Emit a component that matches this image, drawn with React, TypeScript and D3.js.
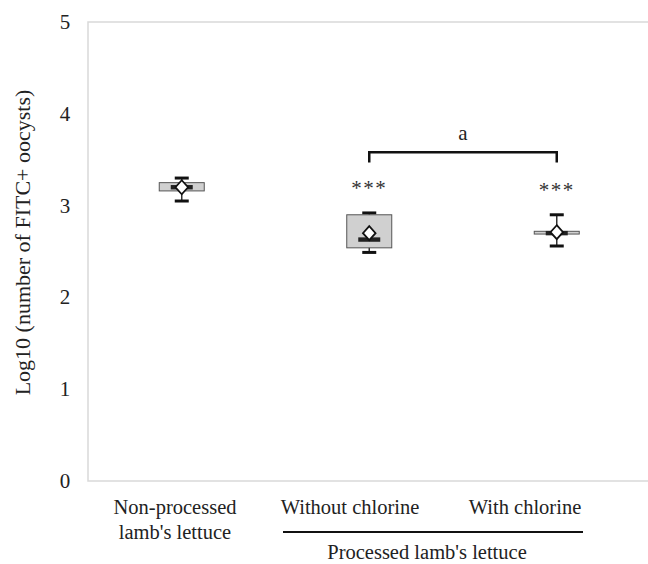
import React from "react";
import * as d3 from "d3";

// groups on the x axis
const categories = ["Non-processed lamb's lettuce", "Without chlorine", "With chlorine"];
const labelLines = [["Non-processed", "lamb's lettuce"], ["Without chlorine"], ["With chlorine"]];

// box statistics, log10 values
const whiskerLow = [3.05, 2.49, 2.56];
const q1 = [3.16, 2.54, 2.69];
const median = [3.2, 2.63, 2.7];
const q3 = [3.25, 2.9, 2.72];
const whiskerHigh = [3.3, 2.92, 2.9];
const means = [3.2, 2.7, 2.71];
const stars = ["", "***", "***"];

const yTicks = [0, 1, 2, 3, 4, 5];

const W = 648;
const H = 564;
const font = "'Liberation Serif', 'Times New Roman', serif";

export default function App() {
  const margin = { top: 22, left: 88, bottom: 83 };
  const x = d3.scaleBand<string>().domain(categories).range([margin.left, 650.5]);
  const xLabel = d3.scaleBand<string>().domain(categories).range([87.5, 612.5]);
  const y = d3.scaleLinear().domain([0, 5]).range([H - margin.bottom, margin.top]);

  const boxW = x.bandwidth() * 0.24;
  const medW = 11;
  const capW = 14;
  const dia = 7;

  const cx = (i: number) => (x(categories[i]) as number) + x.bandwidth() / 2;
  const lx = (i: number) => (xLabel(categories[i]) as number) + xLabel.bandwidth() / 2;

  // bracket between the two processed groups
  const bY = y(3.58);
  const bDrop = y(3.47);

  return (
    <svg width={W} height={H} style={{ position: "absolute", left: 0, top: 0, background: "#fff" }} fontFamily={font}>
      <rect x={margin.left} y={margin.top} width={650.5 - margin.left} height={y(0) - margin.top}
        fill="none" stroke="#d9d9d9" strokeWidth={1.5} />

      {yTicks.map((t) => (
        <text key={t} x={65} y={y(t) + 7} textAnchor="middle" fontSize={21} fill="#222">{t}</text>
      ))}

      <text transform={`translate(30,${(y(0) + y(5)) / 2 - 9}) rotate(-90)`} textAnchor="middle" fontSize={22} fill="#222">
        Log10 (number of FITC+ oocysts)
      </text>

      {categories.map((c, i) => {
        const m = cx(i);
        return (
          <g key={c}>
            <line x1={m} x2={m} y1={y(whiskerHigh[i])} y2={y(whiskerLow[i])} stroke="#333" strokeWidth={1.5} />
            <line x1={m - capW / 2} x2={m + capW / 2} y1={y(whiskerHigh[i])} y2={y(whiskerHigh[i])} stroke="#111" strokeWidth={3} />
            <line x1={m - capW / 2} x2={m + capW / 2} y1={y(whiskerLow[i])} y2={y(whiskerLow[i])} stroke="#111" strokeWidth={3} />
            <rect x={m - boxW / 2} y={y(q3[i])} width={boxW} height={Math.max(y(q1[i]) - y(q3[i]), 2.5)}
              fill="#d0d0d0" stroke="#555" strokeWidth={1} />
            <rect x={m - medW} y={y(median[i]) - 2.2} width={medW * 2} height={4.4} fill="#222" />
            <path d={`M${m},${y(means[i]) - dia} L${m + dia * 0.9},${y(means[i])} L${m},${y(means[i]) + dia} L${m - dia * 0.9},${y(means[i])} Z`}
              fill="#fff" stroke="#111" strokeWidth={1.8} />
            {stars[i] && (
              <text x={m} y={195 + (i - 1) * 1.5} textAnchor="middle" fontSize={21} fill="#333" letterSpacing={1.5}>{stars[i]}</text>
            )}
            {labelLines[i].map((ln, k) => (
              <text key={k} x={lx(i)} y={514 + k * 25} textAnchor="middle" fontSize={20.5} fill="#222">{ln}</text>
            ))}
          </g>
        );
      })}

      <path d={`M${cx(1)},${bDrop} V${bY} H${cx(2)} V${bDrop}`} fill="none" stroke="#111" strokeWidth={2.5} />
      <text x={(cx(1) + cx(2)) / 2} y={140} textAnchor="middle" fontSize={21} fill="#222">a</text>

      <line x1={lx(1) - 67} x2={lx(2) + 58} y1={532} y2={532} stroke="#111" strokeWidth={2} />
      <text x={427} y={559} textAnchor="middle" fontSize={20.5} fill="#222">Processed lamb's lettuce</text>
    </svg>
  );
}
